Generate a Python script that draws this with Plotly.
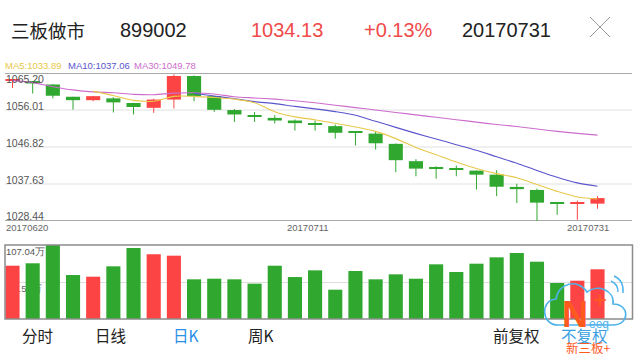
import plotly.graph_objects as go

# ---------------- data ----------------
dates = ["20170620", "20170621", "20170622", "20170623", "20170626", "20170627", "20170628",
         "20170629", "20170630", "20170703", "20170704", "20170705", "20170706", "20170707",
         "20170710", "20170711", "20170712", "20170713", "20170714", "20170717", "20170718",
         "20170719", "20170720", "20170721", "20170724", "20170725", "20170726", "20170727",
         "20170728", "20170731"]

open_ = [1063.3, 1063.2, 1062.35, 1059.3, 1058.45, 1058.9, 1057.75, 1056.55, 1058.6, 1064.45,
         1059.45, 1056.0, 1054.75, 1054.05, 1053.4, 1052.5, 1052.0, 1050.4, 1050.15, 1047.6,
         1043.3, 1041.5, 1041.25, 1040.95, 1039.95, 1036.9, 1036.15, 1032.9, 1032.7, 1032.75]
high = [1063.5, 1063.2, 1062.4, 1059.3, 1059.5, 1059.2, 1057.8, 1058.8, 1064.85, 1064.6,
        1059.5, 1056.25, 1055.5, 1054.75, 1053.65, 1053.4, 1052.4, 1050.4, 1050.75, 1047.7,
        1043.8, 1042.05, 1042.2, 1040.95, 1041.05, 1037.7, 1036.5, 1032.9, 1033.5, 1034.6]
low = [1061.5, 1060.1, 1058.9, 1056.1, 1058.2, 1055.4, 1054.9, 1055.3, 1056.4, 1058.2,
       1055.55, 1053.05, 1053.05, 1052.65, 1050.9, 1050.9, 1048.9, 1047.2, 1046.2, 1040.55,
       1039.55, 1038.95, 1039.55, 1036.25, 1034.6, 1032.9, 1028.44, 1030.0, 1028.75, 1031.5]
close = [1063.4, 1062.6, 1059.55, 1058.45, 1059.45, 1057.9, 1056.75, 1058.6, 1064.45, 1059.45,
         1056.05, 1054.9, 1054.4, 1053.4, 1052.75, 1052.4, 1050.35, 1050.3, 1047.75, 1043.55,
         1041.45, 1041.45, 1041.2, 1039.95, 1036.95, 1036.35, 1033.0, 1032.85, 1032.75, 1034.13]

volume = [77.1, 80.6, 107.04, 63.6, 61.2, 76.2, 102.7, 93.6, 91.6, 57.4,
          58.3, 57.4, 51.1, 77.1, 60.7, 70.4, 42.4, 69.4, 57.4, 64.6,
          58.3, 79.1, 68.0, 80.0, 89.2, 95.5, 82.9, 52.1, 55.4, 71.9]

ma5 = [None, None, None, None, 1060.7, 1059.6, 1058.4, 1058.2, 1059.4, 1059.4,
       1059.1, 1058.7, 1057.8, 1055.6, 1054.3, 1053.6, 1052.7, 1051.8, 1050.7, 1048.9,
       1046.7, 1044.9, 1043.1, 1041.5, 1040.2, 1039.2, 1037.5, 1035.8, 1034.4, 1033.89]
ma10 = [None] * 9 + [1060.1, 1059.5, 1058.8, 1058.1, 1057.6, 1056.9, 1056.3, 1055.6, 1054.7,
                     1053.2, 1051.7, 1050.2, 1048.8, 1047.4, 1046.0, 1044.4, 1042.8, 1041.0,
                     1039.3, 1037.9, 1037.06]
ma30 = [1063.3, 1062.8, 1061.8, 1061.0, 1060.5, 1060.3, 1059.9, 1059.8, 1060.2, 1060.3,
        1060.0, 1059.3, 1059.0, 1058.7, 1058.3, 1057.8, 1057.2, 1056.6, 1056.0, 1055.4,
        1054.8, 1054.2, 1053.6, 1053.0, 1052.4, 1051.9, 1051.3, 1050.7, 1050.2, 1049.78]

price_ticks = [1065.20, 1056.01, 1046.82, 1037.63, 1028.44]
vol_max = 107.04
vol_mid = 53.52
date_labels = ["20170620", "20170711", "20170731"]

header = ["三板做市", "899002", "1034.13", "+0.13%", "20170731"]
legend_text = ["MA5:1033.89", "MA10:1037.06", "MA30:1049.78"]
tabs = ["分时", "日线", "日K", "周K", "前复权", "不复权"]

# ---------------- style ----------------
W, H = 640, 357
RED = "#fd4444"
GREEN = "#30a830"
C_MA5 = "#e8c84a"
C_MA10 = "#5a55cc"
C_MA30 = "#cc6ccc"
LAT = "Liberation Sans, Arial, sans-serif"
CJK = "Noto Sans CJK SC, sans-serif"
LOGO_RED = "#ff5a1e"
LOGO_BLUE = "#4db3ea"


def px(x):
    return x / W


def py(y):
    return 1 - y / H


colors = [RED if c >= o else GREEN for o, c in zip(open_, close)]
body_base = [min(o, c) for o, c in zip(open_, close)]
body_h = [max(abs(c - o), 0.25) for o, c in zip(open_, close)]

fig = go.Figure()

# wicks
for col in (RED, GREEN):
    xs, ys = [], []
    for d, h, l, c in zip(dates, high, low, colors):
        if c == col:
            xs += [d, d, None]
            ys += [h, l, None]
    fig.add_trace(go.Scatter(x=xs, y=ys, mode="lines", line=dict(color=col, width=1),
                             xaxis="x", yaxis="y", hoverinfo="skip", showlegend=False))

# bodies
fig.add_trace(go.Bar(x=dates, y=body_h, base=body_base, marker=dict(color=colors, line=dict(width=0)),
                     width=0.7, xaxis="x", yaxis="y", showlegend=False))

# moving averages
for vals, col in ((ma30, C_MA30), (ma10, C_MA10), (ma5, C_MA5)):
    fig.add_trace(go.Scatter(x=dates, y=vals, mode="lines",
                             line=dict(color=col, width=1.1, shape="spline", smoothing=0.8),
                             xaxis="x", yaxis="y", showlegend=False, connectgaps=False))

# volume
fig.add_trace(go.Bar(x=dates, y=volume, marker=dict(color=colors, line=dict(width=0)),
                     width=0.7, xaxis="x2", yaxis="y2", showlegend=False))

XR = [-0.372, 30.71]
fig.update_layout(
    width=W, height=H, margin=dict(l=0, r=0, t=0, b=0),
    paper_bgcolor="white", plot_bgcolor="white", showlegend=False,
    xaxis=dict(domain=[px(5), px(632)], type="category", categoryorder="array",
               categoryarray=dates, range=XR, visible=False, anchor="y"),
    yaxis=dict(domain=[py(221), py(73)], range=[price_ticks[-1], price_ticks[0]],
               showgrid=False, zeroline=False, showticklabels=False, anchor="x"),
    xaxis2=dict(domain=[px(5), px(632)], type="category", categoryorder="array",
                categoryarray=dates, range=XR, visible=False, anchor="y2"),
    yaxis2=dict(domain=[py(319), py(245)], range=[0, vol_max], anchor="x2",
                tickvals=[vol_mid], ticktext=["53.52万"], ticks="",
                ticklabelposition="inside bottom", showgrid=True, gridcolor="#dedede",
                gridwidth=1, zeroline=False, layer="below traces",
                tickfont=dict(family=LAT, size=9.5, color="#666")),
)

shapes = []
# price grid lines
for i, v in enumerate(price_ticks):
    edge = i in (0, len(price_ticks) - 1)
    shapes.append(dict(type="line", xref="paper", yref="y", x0=px(5), x1=px(632), y0=v, y1=v,
                       line=dict(color="#8c8c8c" if edge else "#e0e0e0", width=1.5 if edge else 1),
                       layer="below"))
# volume box
shapes.append(dict(type="rect", xref="paper", yref="paper", x0=px(5), x1=px(632.5),
                   y0=py(319), y1=py(245), line=dict(color="#8c8c8c", width=1.5)))
# close icon
shapes.append(dict(type="line", xref="paper", yref="paper", x0=px(590), x1=px(610),
                   y0=py(17), y1=py(37), line=dict(color="#999", width=1)))
shapes.append(dict(type="line", xref="paper", yref="paper", x0=px(610), x1=px(590),
                   y0=py(17), y1=py(37), line=dict(color="#999", width=1)))


# cloud logo
def pth(points):
    out = []
    for tok in points:
        if isinstance(tok, str):
            out.append(tok)
        else:
            out.append(f"{px(tok[0]):.5f},{py(tok[1]):.5f}")
    return " ".join(out)


cloud = pth(["M", (558, 325),
             "C", (541, 325), (540, 300), (556, 299),
             "C", (558, 283), (578, 278), (587, 292),
             "C", (597, 284), (615, 290), (613, 304),
             "C", (630, 304), (630, 325), (613, 325), "Z"])
shapes.append(dict(type="path", xref="paper", yref="paper", path=cloud,
                   line=dict(color=LOGO_BLUE, width=1.6)))
arc1 = pth(["M", (611, 281), "Q", (618, 284), (618, 292)])
arc2 = pth(["M", (614, 276), "Q", (624, 280), (623, 293)])
for a in (arc1, arc2):
    shapes.append(dict(type="path", xref="paper", yref="paper", path=a,
                       line=dict(color=LOGO_BLUE, width=1.4)))
fig.update_layout(shapes=shapes)

ann = []


def text(t, x, y, size, color, family=LAT, xanchor="left"):
    ann.append(dict(text=t, x=px(x), y=py(y), xref="paper", yref="paper", showarrow=False,
                    xanchor=xanchor, yanchor="middle", font=dict(size=size, color=color, family=family)))


# header
text(header[0], 9, 30, 18.5, "#222", CJK)
text(header[1], 118, 30, 20, "#222")
text(header[2], 249, 30, 20, "#f04a4a")
text(header[3], 362, 30, 20, "#f04a4a")
text(header[4], 460, 30, 20, "#222")

# legend
text(legend_text[0], 3, 65, 9.5, C_MA5)
text(legend_text[1], 66, 65, 9.5, C_MA10)
text(legend_text[2], 132, 65, 9.5, C_MA30)

# price labels
label_y = [79, 105.5, 142.5, 179.5, 216]
for v, yy in zip(price_ticks, label_y):
    text(f"{v:.2f}", 4, yy, 10.5, "#555")

# date labels
text(date_labels[0], 4, 227.5, 9.5, "#666")
text(date_labels[1], 308, 227.5, 9.5, "#666", xanchor="center")
text(date_labels[2], 611, 227.5, 9.5, "#666", xanchor="right")

# volume max label
text("107.04万", 4, 251.5, 9.5, "#555")

# tabs
tab_x = [37.5, 110.5, 185.5, 261, 516, 584]
tab_c = ["#222", "#222", "#2a8fe6", "#222", "#222", "#3aa0e2"]
for t, xx, cc in zip(tabs, tab_x, tab_c):
    text(t, xx, 335, 15.5, cc, CJK, xanchor="center")

# logo texts
text("<b>N</b>", 574.5, 314, 36, LOGO_RED, LAT, xanchor="center")
text("+", 600, 299, 24, LOGO_RED, LAT, xanchor="center")
text("eeq", 599, 324, 12, LOGO_BLUE, LAT, xanchor="center")
text("新三板+", 588, 347, 12.5, LOGO_RED, CJK, xanchor="center")

fig.update_layout(annotations=ann)
fig.write_html("out.html", config={"displayModeBar": False},
               post_script="document.body.style.margin='0';")
